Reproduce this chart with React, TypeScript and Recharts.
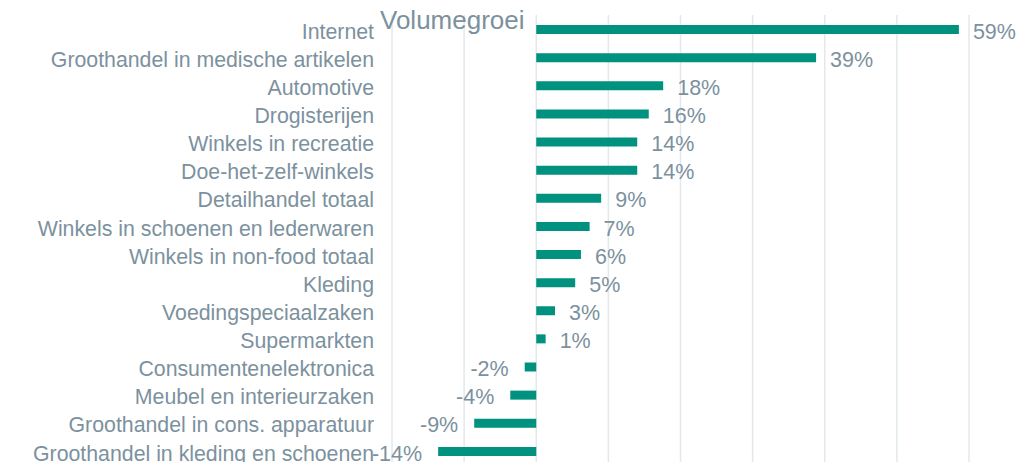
import React from "react";
import { BarChart, Bar, XAxis, YAxis, CartesianGrid, LabelList } from "recharts";

const categories = [
  "Internet",
  "Groothandel in medische artikelen",
  "Automotive",
  "Drogisterijen",
  "Winkels in recreatie",
  "Doe-het-zelf-winkels",
  "Detailhandel totaal",
  "Winkels in schoenen en lederwaren",
  "Winkels in non-food totaal",
  "Kleding",
  "Voedingspeciaalzaken",
  "Supermarkten",
  "Consumentenelektronica",
  "Meubel en interieurzaken",
  "Groothandel in cons. apparatuur",
  "Groothandel in kleding en schoenen",
];

const volumeGrowth = [58.6, 38.8, 17.6, 15.6, 14, 14, 9, 7.4, 6.2, 5.4, 2.6, 1.3, -1.6, -3.6, -8.6, -13.6];

const xTicks = [-20, -10, 0, 10, 20, 30, 40, 50, 60];

const TEXT = "#7c919e";
const BAR = "#00917f";
const GRID = "#e3e8ec";
const FONT = "'Liberation Sans', Arial, sans-serif";

const data = categories.map((name, i) => ({ name, value: volumeGrowth[i] }));

function ValueLabel(props: any) {
  const { x, y, width, height, value } = props;
  const left = Math.min(x, x + width);
  const right = Math.max(x, x + width);
  const neg = value < 0;
  return (
    <text
      x={neg ? left - 16 : right + 14}
      y={y + height / 2 + 1.5}
      dy="0.36em"
      textAnchor={neg ? "end" : "start"}
      fill={TEXT}
      fontSize={21.5}
      fontFamily={FONT}
    >
      {Math.round(value)}%
    </text>
  );
}

function CategoryTick(props: any) {
  const { x, y, payload } = props;
  return (
    <text
      x={x}
      y={y + 2}
      dy="0.36em"
      textAnchor="end"
      fill={TEXT}
      fontSize={21.3}
      fontFamily={FONT}
    >
      {payload.value}
    </text>
  );
}

export default function App() {
  return (
    <div
      style={{
        position: "absolute",
        left: 0,
        top: 0,
        width: 1019,
        height: 462,
        overflow: "hidden",
        background: "#fff",
      }}
    >
      <BarChart
        width={1019}
        height={466}
        data={data}
        layout="vertical"
        margin={{ top: 15, right: 50, bottom: 0, left: 0 }}
        barCategoryGap={0}
      >
        <CartesianGrid horizontal={false} stroke={GRID} strokeWidth={1.5} />
        <XAxis
          type="number"
          domain={[-20, 60]}
          ticks={xTicks}
          interval={0}
          tickFormatter={() => ""}
          tickLine={false}
          axisLine={false}
          height={1}
        />
        <YAxis
          type="category"
          dataKey="name"
          width={392}
          interval={0}
          tickLine={false}
          axisLine={false}
          tickSize={0}
          tickMargin={18}
          tick={<CategoryTick />}
        />
        <Bar dataKey="value" fill={BAR} barSize={9} isAnimationActive={false}>
          <LabelList dataKey="value" content={<ValueLabel />} />
        </Bar>
      </BarChart>
      <div
        style={{
          position: "absolute",
          left: 380,
          top: 7,
          fontFamily: FONT,
          fontSize: 26,
          lineHeight: "26px",
          color: TEXT,
          whiteSpace: "nowrap",
        }}
      >
        Volumegroei
      </div>
    </div>
  );
}
